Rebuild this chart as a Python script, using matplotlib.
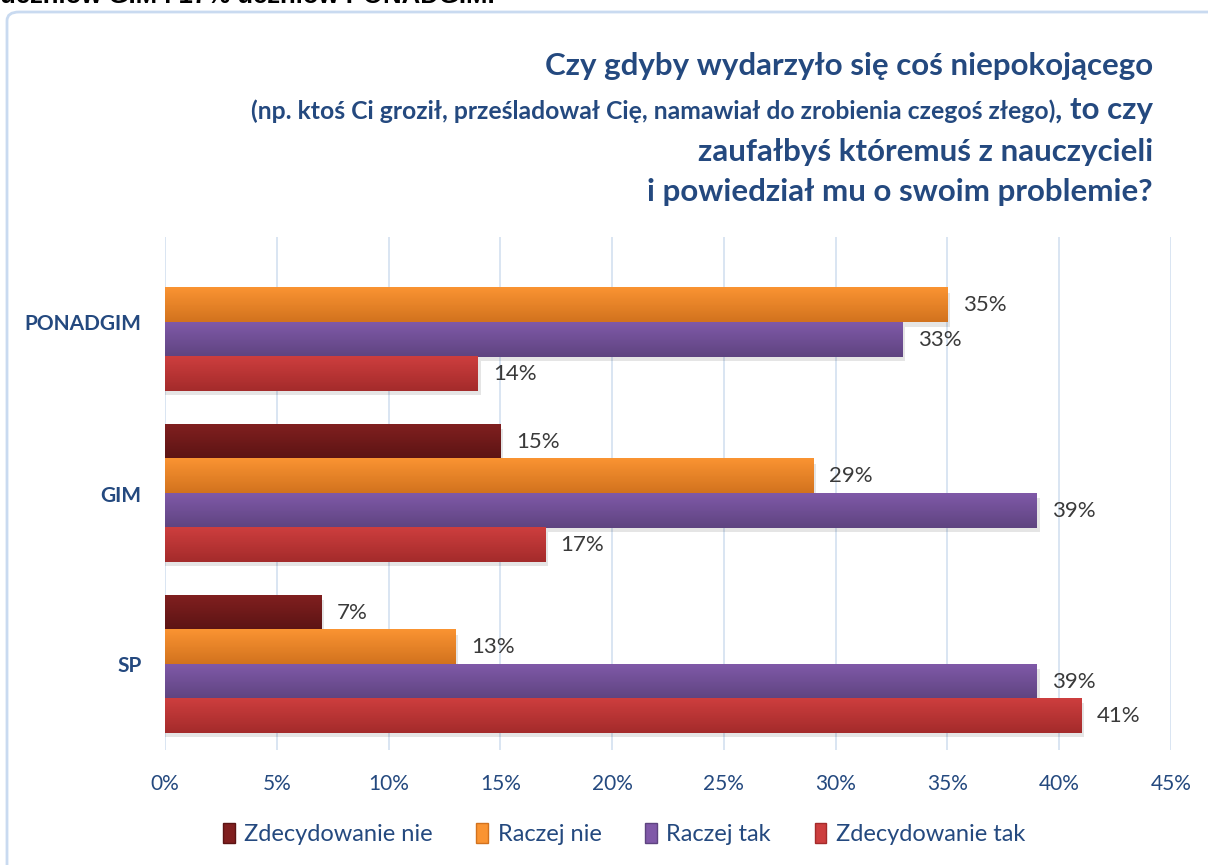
import matplotlib
matplotlib.use('Agg')
import matplotlib.pyplot as plt
from matplotlib.patches import FancyBboxPatch, Patch
from matplotlib.colors import LinearSegmentedColormap
import numpy as np

# data
categories = ['SP', 'GIM', 'PONADGIM']
series_names = ['Zdecydowanie nie', 'Raczej nie', 'Raczej tak', 'Zdecydowanie tak']
zdecydowanie_nie = [7, 15, np.nan]   # no bar for PONADGIM
raczej_nie = [13, 29, 35]
raczej_tak = [39, 39, 33]
zdecydowanie_tak = [41, 17, 14]
x_ticks = [0, 5, 10, 15, 20, 25, 30, 35, 40, 45]

series = [zdecydowanie_nie, raczej_nie, raczej_tak, zdecydowanie_tak]
# (top colour, bottom colour) of the gradient fill
grad_colors = [('#801F1F', '#5C1414'), ('#FA9432', '#D2721E'),
               ('#8059A8', '#5E4480'), ('#CD3E3E', '#A42B2B')]
blue = '#24497F'

plt.rcParams['font.family'] = ['Lato', 'DejaVu Sans']

fig = plt.figure(figsize=(12.08, 8.65), dpi=100)

# light blue frame of the chart area
frame = FancyBboxPatch((7 / 1208, -0.05), 1.2, 1.05 - 12 / 865,
                       boxstyle='round,pad=0,rounding_size=0.01',
                       transform=fig.transFigure, facecolor='white',
                       edgecolor='#C9DAF0', linewidth=2, zorder=-10)
fig.patches.append(frame)

# clipped text of the document above the chart
fig.text(0.0, 1 - 3 / 865, 'uczniów GIM i 17% uczniów PONADGIM.',
         family=['Liberation Sans', 'DejaVu Sans'], fontweight='bold',
         fontsize=18.5, color='black', ha='left', va='baseline')

ax = fig.add_axes([165 / 1208, 1 - 750 / 865, (1171 - 165) / 1208, (750 - 237) / 865])
ax.patch.set_alpha(0)

y = np.arange(len(categories))
h = 0.2
offsets = [1.5 * h, 0.5 * h, -0.5 * h, -1.5 * h]

for vals, off, (ctop, cbot), name in zip(series, offsets, grad_colors, series_names):
    cmap = LinearSegmentedColormap.from_list(name, [cbot, ctop])
    grad = np.linspace(0, 1, 64).reshape(-1, 1)
    for yi, v in zip(y, vals):
        if np.isnan(v):
            continue
        y0, y1 = yi + off - h / 2, yi + off + h / 2
        # soft shadow
        ax.barh(yi + off - 0.025, v + 0.12, height=h, left=0,
                color='#000000', alpha=0.10, linewidth=0, zorder=1)
        ax.imshow(grad, extent=(0, v, y0, y1), origin='lower', cmap=cmap,
                  aspect='auto', zorder=2)
        ax.text(v + 0.7, yi + off, f'{v:.0f}%', va='center', ha='left',
                fontsize=16, color='#3A3A3A', zorder=3)

ax.set_xlim(0, 45)
ax.set_ylim(-0.5, 2.5)
ax.set_xticks(x_ticks)
ax.set_xticklabels([f'{t}%' for t in x_ticks], fontsize=15, color=blue)
ax.set_yticks(y)
ax.set_yticklabels(categories, fontsize=15, fontweight='bold', color=blue)
ax.tick_params(axis='both', length=0)
ax.tick_params(axis='x', pad=17)
ax.tick_params(axis='y', pad=17)
ax.grid(axis='x', color='#D3E0F0', linewidth=1.2, zorder=0)
ax.set_axisbelow(True)
for s in ax.spines.values():
    s.set_visible(False)

# title, right aligned
tx = 1153 / 1208
fig.text(tx, 1 - 66 / 865, 'Czy gdyby wydarzyło się coś niepokojącego',
         fontsize=22.5, fontweight='bold', color=blue, ha='right', va='center')
big = fig.text(tx, 1 - 110 / 865, ', to czy', fontsize=22.5, fontweight='bold',
               color=blue, ha='right', va='center')
fig.canvas.draw()
bb = big.get_window_extent()
fig.text(bb.x0 / fig.bbox.width, 1 - 111 / 865,
         '(np. ktoś Ci groził, prześladował Cię, namawiał do zrobienia czegoś złego)',
         fontsize=17.8, fontweight='bold', color=blue, ha='right', va='center')
fig.text(tx, 1 - 152 / 865, 'zaufałbyś któremuś z nauczycieli',
         fontsize=22.5, fontweight='bold', color=blue, ha='right', va='center')
fig.text(tx, 1 - 192 / 865, 'i powiedział mu o swoim problemie?',
         fontsize=22.5, fontweight='bold', color=blue, ha='right', va='center')

handles = [Patch(facecolor=c[0], edgecolor=c[1]) for c in grad_colors]
leg = fig.legend(handles, series_names, loc='center', ncol=4,
                 bbox_to_anchor=(624 / 1208, 1 - 834 / 865), frameon=False,
                 fontsize=17, handlelength=0.5, handleheight=0.9,
                 handletextpad=0.4, columnspacing=1.85)
for t in leg.get_texts():
    t.set_color(blue)

fig.savefig('out.png', dpi=100)
